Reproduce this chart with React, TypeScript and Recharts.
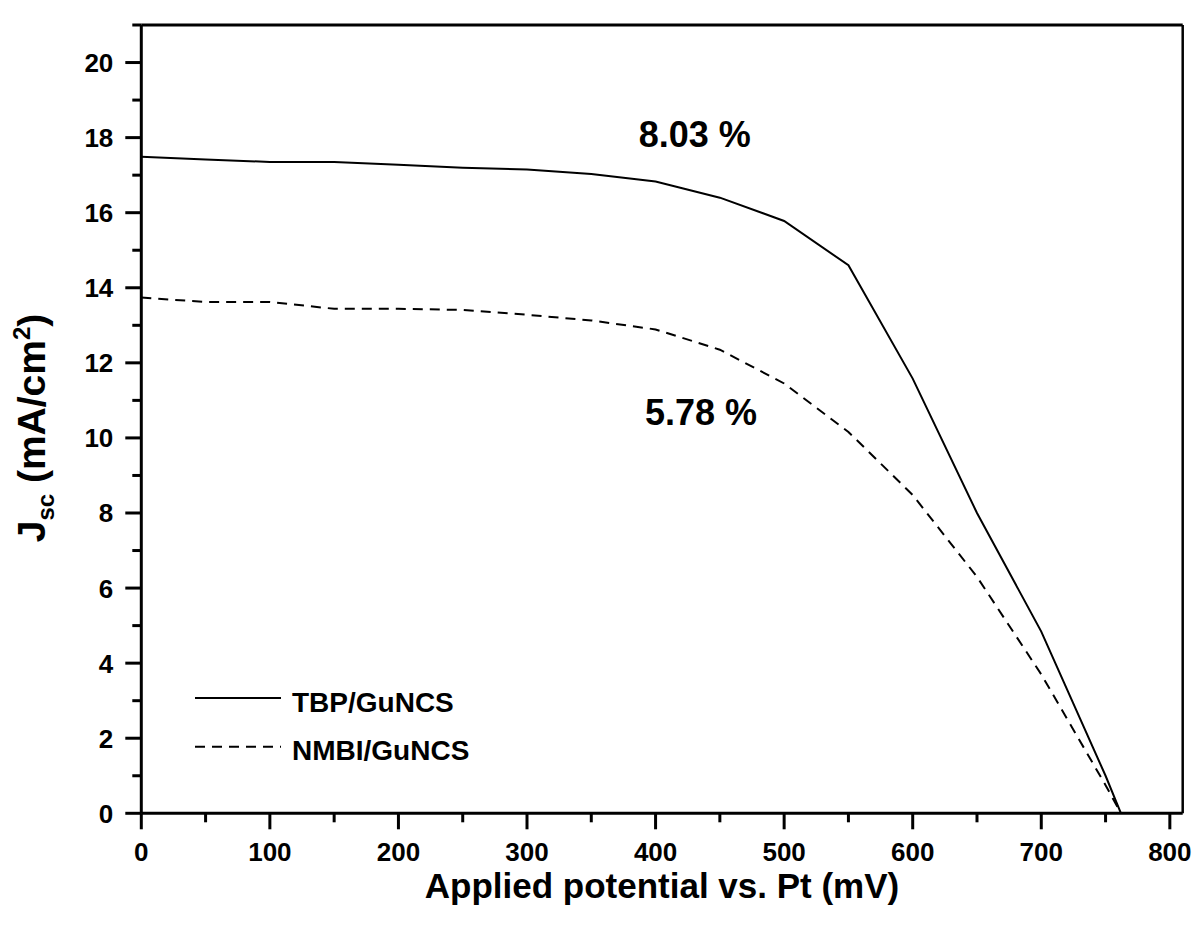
import { LineChart, Line, XAxis, YAxis, ReferenceLine, ReferenceDot, Legend } from 'recharts';

const FONT = '"Liberation Sans", Arial, Helvetica, sans-serif';

// applied potential (mV)
const potential = [0, 50, 100, 150, 200, 250, 300, 350, 400, 450, 500, 550, 600, 650, 700, 750, 762];
// Jsc (mA/cm2)
const tbpGuNCS = [17.49, 17.42, 17.35, 17.35, 17.28, 17.2, 17.15, 17.03, 16.83, 16.4, 15.78, 14.6, 11.58, 8.0, 4.84, 1.0, 0];
const nmbiGuNCS = [13.74, 13.62, 13.62, 13.44, 13.44, 13.41, 13.28, 13.13, 12.89, 12.35, 11.45, 10.16, 8.48, 6.3, 3.7, 0.75, 0];

const xTicks = [0, 50, 100, 150, 200, 250, 300, 350, 400, 450, 500, 550, 600, 650, 700, 750, 800];
const yTicks = [0, 1, 2, 3, 4, 5, 6, 7, 8, 9, 10, 11, 12, 13, 14, 15, 16, 17, 18, 19, 20, 21];

const efficiencies = [
  { text: '8.03 %', v: 430.5, j: 18.1 },
  { text: '5.78 %', v: 435.4, j: 10.69 },
];

const series = [
  { key: 'tbp', name: 'TBP/GuNCS', dash: undefined as string | undefined },
  { key: 'nmbi', name: 'NMBI/GuNCS', dash: '10 7' },
];

const data = potential.map((v, i) => ({ v, tbp: tbpGuNCS[i], nmbi: nmbiGuNCS[i] }));

const XTick = (props: any) => {
  const { x, y, payload } = props;
  const major = payload.value % 100 === 0;
  return (
    <g>
      <line x1={x} y1={y} x2={x} y2={y + (major ? 16 : 9)} stroke="#000" strokeWidth={3} />
      {major && (
        <text x={x} y={y + 48} textAnchor="middle" fontSize={26} fontWeight="bold" fontFamily={FONT} fill="#000">
          {payload.value}
        </text>
      )}
    </g>
  );
};

const YTick = (props: any) => {
  const { x, y, payload } = props;
  const major = payload.value % 2 === 0 && payload.value <= 20;
  return (
    <g>
      <line x1={x - (major ? 16 : 9)} y1={y} x2={x} y2={y} stroke="#000" strokeWidth={3} />
      {major && (
        <text x={x - 28} y={y + 9.5} textAnchor="end" fontSize={26} fontWeight="bold" fontFamily={FONT} fill="#000">
          {payload.value}
        </text>
      )}
    </g>
  );
};

const XTitle = (props: any) => {
  const vb = props.viewBox || { x: 141, width: 1042 };
  return (
    <text x={vb.x + vb.width / 2} y={898} textAnchor="middle" fontSize={35} fontWeight="bold" fontFamily={FONT} fill="#000">
      Applied potential vs. Pt (mV)
    </text>
  );
};

const YTitle = () => (
  <text transform="translate(45, 428) rotate(-90)" textAnchor="middle" fontSize={39} fontWeight="bold" fontFamily={FONT} fill="#000">
    J
    <tspan fontSize={24} dy={9}>sc</tspan>
    <tspan dy={-9}>{' (mA/cm'}</tspan>
    <tspan fontSize={24} dy={-15}>2</tspan>
    <tspan dy={15}>)</tspan>
  </text>
);

const renderLegend = () => (
  <svg width={300} height={90}>
    {series.map((s, i) => {
      const ly = i === 0 ? 18 : 66.7;
      return (
        <g key={s.key}>
          <line x1={5} y1={ly} x2={91} y2={ly} stroke="#000" strokeWidth={2} strokeDasharray={s.dash} />
          <text x={102} y={ly + 13.5} fontSize={28} fontWeight="bold" fontFamily={FONT} fill="#000">
            {s.name}
          </text>
        </g>
      );
    })}
  </svg>
);

const EffLabel = (text: string) => (p: any) => (
  <text x={p.cx} y={p.cy + 13} textAnchor="middle" fontSize={36} fontWeight="bold" fontFamily={FONT} fill="#000">
    {text}
  </text>
);

export default function App() {
  return (
    <div style={{ position: 'absolute', left: 0, top: 0, width: 1200, height: 941, overflow: 'hidden', background: '#fff' }}>
      <LineChart width={1200} height={941} data={data} margin={{ top: 25, right: 17.3, left: 41.3, bottom: 47.7 }}>
        <XAxis
          dataKey="v"
          type="number"
          domain={[0, 810]}
          ticks={xTicks}
          interval={0}
          allowDataOverflow
          height={80}
          tickSize={0}
          tickMargin={0}
          tickLine={false}
          axisLine={{ stroke: '#000', strokeWidth: 3 }}
          tick={XTick}
          label={{ content: XTitle }}
        />
        <YAxis
          type="number"
          domain={[0, 21]}
          ticks={yTicks}
          interval={0}
          allowDataOverflow
          width={100}
          tickSize={0}
          tickMargin={0}
          tickLine={false}
          axisLine={{ stroke: '#000', strokeWidth: 3 }}
          tick={YTick}
          label={{ content: YTitle }}
        />
        <ReferenceLine y={21} stroke="#000" strokeWidth={3} />
        <ReferenceLine x={810} stroke="#000" strokeWidth={2.5} />
        {series.map((s) => (
          <Line
            key={s.key}
            type="linear"
            dataKey={s.key}
            name={s.name}
            stroke="#000"
            strokeWidth={2}
            strokeDasharray={s.dash}
            dot={false}
            activeDot={false}
            isAnimationActive={false}
          />
        ))}
        {efficiencies.map((e) => (
          <ReferenceDot key={e.text} x={e.v} y={e.j} r={0} shape={EffLabel(e.text)} />
        ))}
        <Legend
          layout="vertical"
          align="center"
          verticalAlign="middle"
          wrapperStyle={{ position: 'absolute', left: 190, top: 680, width: 300, height: 90 }}
          content={renderLegend}
        />
      </LineChart>
    </div>
  );
}
